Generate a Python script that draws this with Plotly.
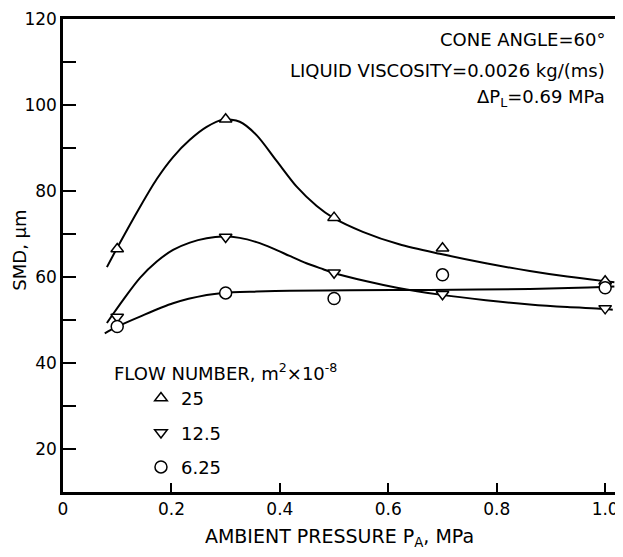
import plotly.graph_objects as go

# measured points (ambient pressure in MPa, SMD in micrometres)
pressure = [0.1, 0.3, 0.5, 0.7, 1.0]
smd_25 = [66.5, 96.7, 73.8, 66.7, 59.0]
smd_12_5 = [50.7, 69.3, 61.0, 56.0, 52.7]
smd_6_25 = [48.5, 56.3, 55.0, 60.5, 57.5]

# hand-drawn fitted curves
curve_25_x = [0.081, 0.1, 0.142, 0.173, 0.203, 0.234, 0.265, 0.295, 0.326, 0.357, 0.394,
              0.431, 0.468, 0.498, 0.553, 0.62, 0.695, 0.78, 0.861, 0.93, 0.995, 1.017]
curve_25_y = [62.3, 66.8, 76.3, 82.8, 87.9, 91.9, 94.9, 96.6, 96.1, 93.0, 87.0,
              81.0, 76.5, 73.8, 70.5, 67.6, 65.4, 63.2, 61.4, 60.1, 59.1, 58.8]
curve_12_5_x = [0.081, 0.093, 0.111, 0.142, 0.173, 0.203, 0.234, 0.265, 0.295, 0.326, 0.357,
                0.388, 0.418, 0.449, 0.48, 0.498, 0.56, 0.616, 0.695, 0.78, 0.861, 0.93, 0.995, 1.014]
curve_12_5_y = [49.3, 51.5, 54.7, 59.8, 63.6, 66.3, 68.0, 69.0, 69.4, 69.1, 68.1,
                66.6, 64.9, 63.2, 61.8, 61.0, 59.0, 57.5, 55.9, 54.6, 53.6, 53.0, 52.6, 52.4]
curve_6_25_x = [0.077, 0.099, 0.142, 0.203, 0.265, 0.295, 0.357, 0.418, 0.529, 0.676, 0.861, 0.95, 0.995, 1.017]
curve_6_25_y = [46.9, 48.4, 50.8, 53.9, 55.8, 56.3, 56.6, 56.8, 56.9, 57.0, 57.2, 57.5, 57.7, 57.8]

flow_labels = ["25", "12.5", "6.25"]

x_ticks = [0, 0.2, 0.4, 0.6, 0.8, 1.0]
x_tick_text = ["0", "0.2", "0.4", "0.6", "0.8", "1.0"]
y_ticks = [20, 40, 60, 80, 100, 120]
y_minor = [30, 50, 70, 90, 110]

font = "DejaVu Sans"

fig = go.Figure()

curves = [(curve_25_x, curve_25_y), (curve_12_5_x, curve_12_5_y), (curve_6_25_x, curve_6_25_y)]
for cx, cy in curves:
    fig.add_trace(go.Scatter(x=cx, y=cy, mode="lines",
                             line=dict(color="black", width=2, shape="spline", smoothing=0.8),
                             showlegend=False, hoverinfo="skip"))

series = [(smd_25, "triangle-up", 11), (smd_12_5, "triangle-down", 11), (smd_6_25, "circle", 12)]
for i, (vals, sym, sz) in enumerate(series):
    fig.add_trace(go.Scatter(
        x=pressure, y=vals, mode="markers", name=flow_labels[i], legendgroup=str(i),
        marker=dict(symbol=sym, size=sz, color="white", line=dict(color="black", width=1.5)),
    ))

# page body adds ~8px offset, margins compensate for it
fig.update_layout(
    width=623, height=557,
    margin=dict(l=55, r=15, t=11, b=73),
    paper_bgcolor="white", plot_bgcolor="white",
    font=dict(family=font, size=17, color="black"),
    legend=dict(x=0.141, y=0.237, xanchor="left", yanchor="top", bgcolor="rgba(0,0,0,0)",
                tracegroupgap=8, font=dict(size=18)),
    xaxis=dict(range=[0, 1.02], tickvals=x_ticks, ticktext=x_tick_text, ticks="inside", ticklen=9,
               tickwidth=2, tickcolor="black", showline=True, linewidth=2.5, linecolor="black",
               mirror=True, showgrid=False, zeroline=False, automargin=False,
               title=dict(text="AMBIENT PRESSURE P<sub>A</sub>, MPa", standoff=12, font=dict(size=19))),
    yaxis=dict(range=[10, 120], tickvals=y_ticks, ticks="inside", ticklen=13, tickwidth=2,
               tickcolor="black", showline=True, linewidth=2.5, linecolor="black",
               showgrid=False, zeroline=False, automargin=False,
               minor=dict(tickvals=y_minor, ticks="inside", ticklen=13, tickwidth=2, tickcolor="black")),
)

fig.add_annotation(text="SMD, μm", xref="paper", yref="paper", x=-0.078, y=0.512, textangle=-90,
                   xanchor="center", yanchor="middle", showarrow=False, font=dict(size=18))

notes = [
    ("CONE ANGLE=60°", 0.956),
    ("LIQUID VISCOSITY=0.0026 kg/(ms)", 0.892),
    ("ΔP<sub>L</sub>=0.69 MPa", 0.833),
]
for txt, yy in notes:
    fig.add_annotation(text=txt, xref="paper", yref="paper", x=0.984, y=yy, xanchor="right",
                       yanchor="middle", showarrow=False, font=dict(size=18))

fig.add_annotation(text="FLOW NUMBER, m<sup>2</sup>×10<sup>-8</sup>", xref="paper", yref="paper",
                   x=0.0886, y=0.254, xanchor="left", yanchor="middle", showarrow=False,
                   font=dict(size=18))

fig.write_html("out.html")
